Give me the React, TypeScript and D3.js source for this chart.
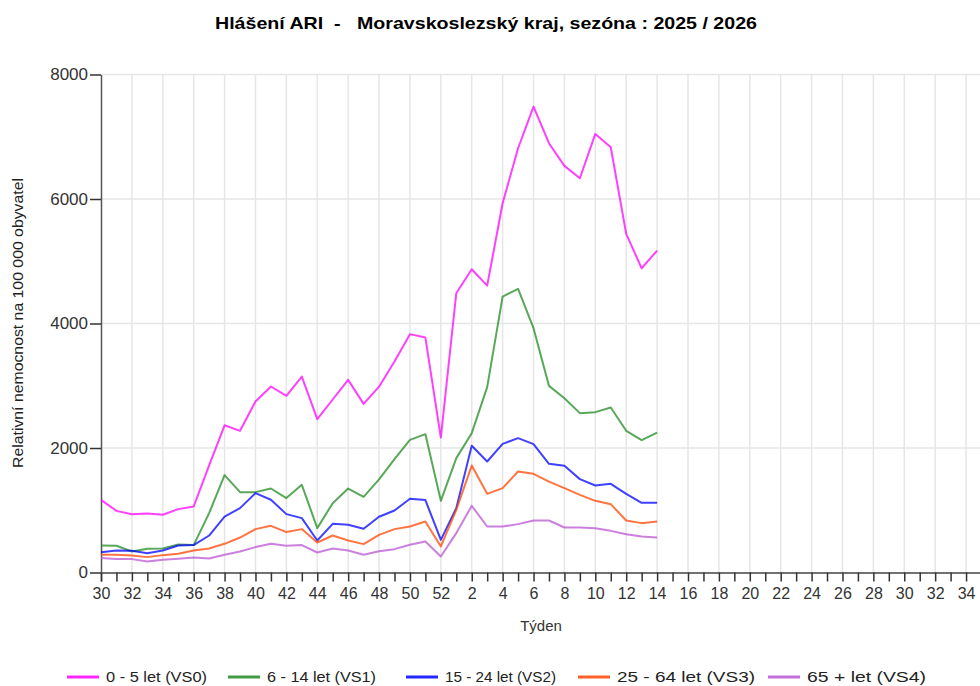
import React, { useEffect, useRef } from "react";
import * as d3 from "d3";

// week labels on the x axis (season runs from week 30 to week 35 of next year)
const weeks = [
  30, 31, 32, 33, 34, 35, 36, 37, 38, 39, 40, 41, 42, 43, 44, 45, 46, 47, 48, 49,
  50, 51, 52, 1, 2, 3, 4, 5, 6, 7, 8, 9, 10, 11, 12, 13, 14, 15, 16, 17, 18, 19,
  20, 21, 22, 23, 24, 25, 26, 27, 28, 29, 30, 31, 32, 33, 34, 35,
];

// values reported so far (week 30 .. week 14)
const vs0 = [
  1167, 990, 937, 948, 927, 1018, 1060, 1720, 2365, 2276, 2747, 2988, 2838, 3148,
  2463, 2779, 3095, 2709, 2985, 3389, 3829, 3774, 2168, 4487, 4872, 4609, 5932,
  6815, 7484, 6896, 6532, 6334, 7045, 6832, 5439, 4888, 5171,
];
const vs1 = [
  434, 429, 337, 380, 385, 450, 440, 954, 1564, 1291, 1291, 1349, 1195, 1408, 713,
  1114, 1349, 1216, 1497, 1821, 2131, 2222, 1151, 1837, 2238, 2977, 4432, 4556,
  3925, 2998, 2800, 2560, 2576, 2650, 2276, 2126, 2248,
];
const vs2 = [
  327, 353, 348, 311, 353, 434, 440, 594, 899, 1034, 1275, 1168, 938, 874, 514, 782,
  766, 702, 895, 996, 1184, 1163, 525, 1034, 2035, 1783, 2067, 2158, 2062, 1746,
  1714, 1500, 1397, 1425, 1264, 1119, 1119,
];
const vs3 = [
  284, 284, 273, 247, 279, 300, 353, 385, 461, 562, 697, 750, 649, 697, 482, 594,
  514, 456, 605, 697, 739, 819, 418, 1007, 1718, 1264, 1355, 1622, 1585, 1461, 1355,
  1248, 1151, 1098, 835, 793, 819,
];
const vs4 = [
  231, 215, 215, 177, 204, 220, 241, 225, 284, 337, 408, 461, 429, 440, 321, 385,
  353, 284, 342, 375, 445, 498, 257, 633, 1071, 739, 739, 777, 835, 835, 723, 723,
  712, 669, 616, 578, 562,
];

const seriesNames = [
  "0 - 5 let (VS0)",
  "6 - 14 let (VS1)",
  "15 - 24 let (VS2)",
  "25 - 64 let (VS3)",
  "65 + let (VS4)",
];
const seriesColors = ["#ff00ff", "#228b22", "#0000ff", "#ff4500", "#ba55d3"];
const yTicks = [0, 2000, 4000, 6000, 8000];

const FONT = "'Liberation Sans', Arial, sans-serif";

const App = () => {
  const svgRef = useRef<SVGSVGElement>(null);

  useEffect(() => {
    if (!svgRef.current) return;
    const svg = d3.select(svgRef.current);
    svg.selectAll("*").remove();

    const left = 101;
    const right = 981.5;
    const top = 74.5;
    const bottom = 572.5;

    const x = d3.scaleLinear().domain([0, weeks.length - 1]).range([left, right]);
    const y = d3.scaleLinear().domain([0, 8000]).range([bottom, top]);

    // title
    svg
      .append("text")
      .attr("x", 486)
      .attr("y", 29)
      .attr("text-anchor", "middle")
      .attr("font-family", FONT)
      .attr("font-weight", "bold")
      .attr("font-size", 17)
      .attr("textLength", 542)
      .attr("lengthAdjust", "spacingAndGlyphs")
      .attr("xml:space", "preserve")
      .text("Hlášení ARI  -   Moravskoslezský kraj, sezóna : 2025 / 2026");

    // grid
    const grid = svg.append("g").attr("stroke", "#e6e6e6").attr("stroke-width", 1.5);
    weeks.forEach((w, i) => {
      if (i > 0 && w % 2 === 0) {
        grid
          .append("line")
          .attr("x1", x(i))
          .attr("x2", x(i))
          .attr("y1", top)
          .attr("y2", bottom);
      }
    });
    yTicks.slice(1).forEach((t) => {
      grid
        .append("line")
        .attr("x1", left)
        .attr("x2", 980)
        .attr("y1", y(t))
        .attr("y2", y(t));
    });

    // axes
    const xAxis = d3
      .axisBottom(x)
      .tickValues(d3.range(weeks.length))
      .tickSize(9)
      .tickFormat((d) => {
        const w = weeks[d as number];
        return w % 2 === 0 ? String(w) : "";
      });
    const gx = svg
      .append("g")
      .attr("transform", `translate(0,${bottom})`)
      .call(xAxis);
    gx.select(".domain").attr("stroke", "#444").attr("stroke-width", 1.5);
    gx.selectAll(".tick line").attr("stroke", "#333").attr("stroke-width", 1.5);
    gx.selectAll(".tick text")
      .attr("font-family", FONT)
      .attr("font-size", 16)
      .attr("fill", "#333")
      .attr("dy", "0.9em");

    const yAxis = d3
      .axisLeft(y)
      .tickValues(yTicks)
      .tickSize(11)
      .tickSizeOuter(0)
      .tickFormat(d3.format("d"));
    const gy = svg.append("g").attr("transform", `translate(${left},0)`).call(yAxis);
    gy.select(".domain").attr("stroke", "#555").attr("stroke-width", 1.5);
    gy.selectAll(".tick line").attr("stroke", "#333").attr("stroke-width", 1.5);
    gy.selectAll(".tick text")
      .attr("font-family", FONT)
      .attr("font-size", 17)
      .attr("fill", "#333")
      .attr("x", -13);

    // axis titles
    svg
      .append("text")
      .attr("x", 541)
      .attr("y", 631)
      .attr("text-anchor", "middle")
      .attr("font-family", FONT)
      .attr("font-size", 15)
      .attr("fill", "#333")
      .text("Týden");
    svg
      .append("text")
      .attr("transform", "translate(23,323) rotate(-90)")
      .attr("text-anchor", "middle")
      .attr("font-family", FONT)
      .attr("font-size", 14)
      .attr("fill", "#222")
      .attr("textLength", 290)
      .attr("lengthAdjust", "spacingAndGlyphs")
      .text("Relativní nemocnost na 100 000 obyvatel");

    // lines
    const line = d3
      .line<number>()
      .x((_, i) => x(i))
      .y((d) => y(d));
    [vs0, vs1, vs2, vs3, vs4].forEach((s, k) => {
      svg
        .append("path")
        .datum(s)
        .attr("fill", "none")
        .attr("stroke", seriesColors[k])
        .attr("stroke-opacity", 0.75)
        .attr("stroke-width", 2)
        .attr("stroke-linejoin", "round")
        .attr("d", line);
    });

    // legend
    const legendX = [67, 228, 406, 578, 768];
    const legendW = [101, 109, 111, 138, 119];
    const lg = svg.append("g");
    seriesNames.forEach((n, k) => {
      lg.append("line")
        .attr("x1", legendX[k])
        .attr("x2", legendX[k] + 32)
        .attr("y1", 677)
        .attr("y2", 677)
        .attr("stroke", seriesColors[k])
        .attr("stroke-opacity", 0.85)
        .attr("stroke-width", 3);
      lg.append("text")
        .attr("x", legendX[k] + 39)
        .attr("y", 682)
        .attr("font-family", FONT)
        .attr("font-size", 15)
        .attr("fill", "#222")
        .attr("textLength", legendW[k])
        .attr("lengthAdjust", "spacingAndGlyphs")
        .text(n);
    });
  }, []);

  return (
    <div style={{ position: "absolute", left: 0, top: 0 }}>
      <svg ref={svgRef} width={980} height={686} style={{ display: "block" }} />
    </div>
  );
};

export default App;
